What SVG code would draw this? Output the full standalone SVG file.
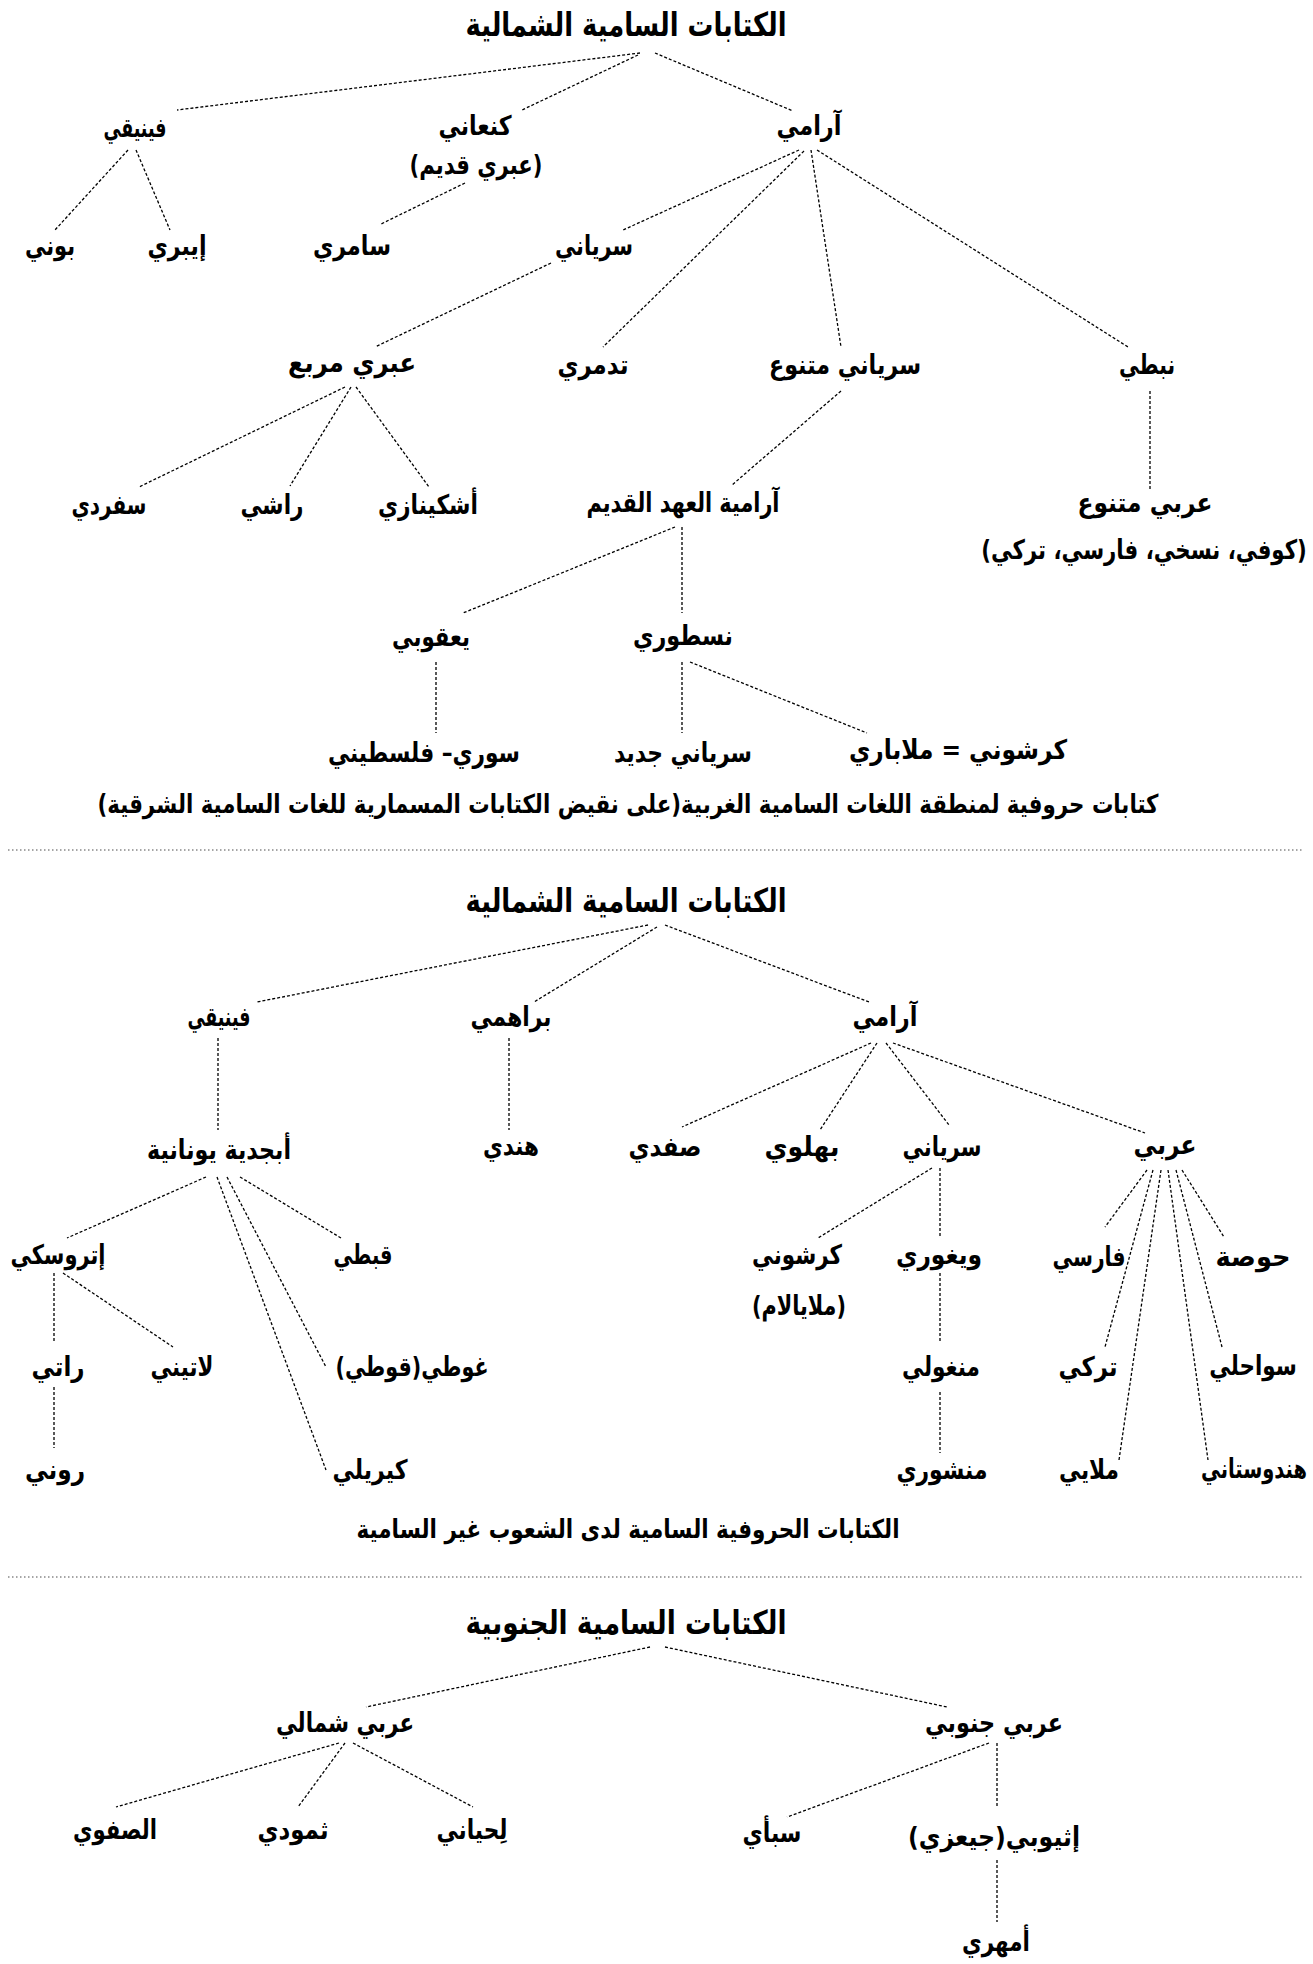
<svg xmlns="http://www.w3.org/2000/svg" width="1313" height="1964" viewBox="0 0 1313 1964">
<style>
text{font-family:"DejaVu Sans","Noto Sans",sans-serif;font-weight:bold;fill:#000;text-anchor:middle;dominant-baseline:central;direction:rtl}
.t{font-size:33px}
.n{font-size:27px}
.c{font-size:26px}
.e line{stroke:#000;stroke-width:1.3;stroke-dasharray:3 2;fill:none}
.sep{stroke:#888;stroke-width:1.5;stroke-dasharray:1.5 2.5}
</style>
<rect width="1313" height="1964" fill="#fff"/>
<g class="e" id="connectors">
<line x1="640" y1="53" x2="177" y2="110"/>
<line x1="638" y1="55" x2="522" y2="110"/>
<line x1="655" y1="53" x2="793" y2="111"/>
<line x1="128" y1="150" x2="55" y2="230"/>
<line x1="136" y1="150" x2="170" y2="230"/>
<line x1="465" y1="183" x2="381" y2="224"/>
<line x1="799" y1="150" x2="623" y2="230"/>
<line x1="804" y1="151" x2="603" y2="347"/>
<line x1="811" y1="150" x2="841" y2="347"/>
<line x1="817" y1="150" x2="1128" y2="347"/>
<line x1="551" y1="263" x2="375" y2="347"/>
<line x1="345" y1="387" x2="139" y2="487"/>
<line x1="351" y1="387" x2="290" y2="486"/>
<line x1="356" y1="387" x2="429" y2="487"/>
<line x1="841" y1="391" x2="732" y2="485"/>
<line x1="1150" y1="391" x2="1150" y2="489"/>
<line x1="675" y1="527" x2="463" y2="613"/>
<line x1="682" y1="527" x2="682" y2="613"/>
<line x1="436" y1="662" x2="436" y2="733"/>
<line x1="682" y1="662" x2="682" y2="733"/>
<line x1="690" y1="662" x2="867" y2="733"/>
<line x1="648" y1="925" x2="257" y2="1002"/>
<line x1="657" y1="927" x2="534" y2="1002"/>
<line x1="665" y1="925" x2="869" y2="1002"/>
<line x1="218" y1="1038" x2="218" y2="1130"/>
<line x1="509" y1="1038" x2="509" y2="1130"/>
<line x1="871" y1="1043" x2="682" y2="1127"/>
<line x1="877" y1="1043" x2="820" y2="1130"/>
<line x1="886" y1="1043" x2="949" y2="1125"/>
<line x1="893" y1="1043" x2="1145" y2="1133"/>
<line x1="206" y1="1177" x2="67" y2="1238"/>
<line x1="217" y1="1177" x2="326" y2="1470"/>
<line x1="227" y1="1177" x2="326" y2="1367"/>
<line x1="240" y1="1177" x2="341" y2="1238"/>
<line x1="54" y1="1273" x2="54" y2="1342"/>
<line x1="63" y1="1273" x2="173" y2="1347"/>
<line x1="54" y1="1387" x2="54" y2="1448"/>
<line x1="932" y1="1168" x2="818" y2="1238"/>
<line x1="940" y1="1168" x2="940" y2="1238"/>
<line x1="940" y1="1273" x2="940" y2="1342"/>
<line x1="940" y1="1392" x2="940" y2="1453"/>
<line x1="1147" y1="1170" x2="1105" y2="1227"/>
<line x1="1153" y1="1170" x2="1105" y2="1347"/>
<line x1="1161" y1="1170" x2="1119" y2="1460"/>
<line x1="1168" y1="1170" x2="1208" y2="1460"/>
<line x1="1176" y1="1170" x2="1222" y2="1347"/>
<line x1="1182" y1="1170" x2="1224" y2="1237"/>
<line x1="650" y1="1647" x2="366" y2="1707"/>
<line x1="665" y1="1647" x2="947" y2="1707"/>
<line x1="339" y1="1743" x2="116" y2="1807"/>
<line x1="345" y1="1743" x2="298" y2="1807"/>
<line x1="353" y1="1743" x2="473" y2="1807"/>
<line x1="989" y1="1743" x2="787" y2="1817"/>
<line x1="997" y1="1743" x2="997" y2="1807"/>
<line x1="997" y1="1860" x2="997" y2="1922"/>
</g>
<g id="separators">
<line class="sep" x1="8" y1="850" x2="1302" y2="850"/>
<line class="sep" x1="8" y1="1577" x2="1302" y2="1577"/>
</g>
<g id="s1">
<g id="t1"><text class="t" x="626" y="24" textLength="321" lengthAdjust="spacingAndGlyphs">الكتابات السامية الشمالية</text></g>
<g id="s1-phoenician"><text class="n" x="135" y="127" textLength="63" lengthAdjust="spacingAndGlyphs">فينيقي</text></g>
<g id="s1-canaanite"><text class="n" x="475" y="125" textLength="73" lengthAdjust="spacingAndGlyphs">كنعاني</text><text class="n" x="476" y="164" textLength="133" lengthAdjust="spacingAndGlyphs">(عبري قديم)</text></g>
<g id="s1-aramaic"><text class="n" x="809" y="125" textLength="65" lengthAdjust="spacingAndGlyphs">آرامي</text></g>
<g id="s1-punic"><text class="n" x="50" y="245" textLength="50" lengthAdjust="spacingAndGlyphs">بوني</text></g>
<g id="s1-iberian"><text class="n" x="177" y="245" textLength="59" lengthAdjust="spacingAndGlyphs">إيبري</text></g>
<g id="s1-samaritan"><text class="n" x="352" y="245" textLength="78" lengthAdjust="spacingAndGlyphs">سامري</text></g>
<g id="s1-syriac"><text class="n" x="594" y="245" textLength="78" lengthAdjust="spacingAndGlyphs">سرياني</text></g>
<g id="s1-square"><text class="n" x="352" y="362" textLength="128" lengthAdjust="spacingAndGlyphs">عبري مربع</text></g>
<g id="s1-palmyrene"><text class="n" x="593" y="364" textLength="71" lengthAdjust="spacingAndGlyphs">تدمري</text></g>
<g id="s1-syriacvar"><text class="n" x="845" y="364" textLength="152" lengthAdjust="spacingAndGlyphs">سرياني متنوع</text></g>
<g id="s1-nabataean"><text class="n" x="1147" y="364" textLength="56" lengthAdjust="spacingAndGlyphs">نبطي</text></g>
<g id="s1-sephardi"><text class="n" x="109" y="504" textLength="75" lengthAdjust="spacingAndGlyphs">سفردي</text></g>
<g id="s1-rashi"><text class="n" x="272" y="504" textLength="63" lengthAdjust="spacingAndGlyphs">راشي</text></g>
<g id="s1-ashkenazi"><text class="n" x="428" y="504" textLength="100" lengthAdjust="spacingAndGlyphs">أشكينازي</text></g>
<g id="s1-ot"><text class="n" x="683" y="502" textLength="193" lengthAdjust="spacingAndGlyphs">آرامية العهد القديم</text></g>
<g id="s1-arabicvar"><text class="n" x="1145" y="502" textLength="135" lengthAdjust="spacingAndGlyphs">عربي متنوع</text><text class="n" transform="translate(1144 550) scale(0.8 1)" x="0" y="0" textLength="407" lengthAdjust="spacingAndGlyphs">(كوفي، نسخي، فارسي، تركي)</text></g>
<g id="s1-jacobite"><text class="n" x="431" y="636" textLength="78" lengthAdjust="spacingAndGlyphs">يعقوبي</text></g>
<g id="s1-nestorian"><text class="n" x="683" y="635" textLength="100" lengthAdjust="spacingAndGlyphs">نسطوري</text></g>
<g id="s1-syropal"><text class="n" x="424" y="752" textLength="192" lengthAdjust="spacingAndGlyphs">سوري– فلسطيني</text></g>
<g id="s1-newsyriac"><text class="n" x="683" y="752" textLength="138" lengthAdjust="spacingAndGlyphs">سرياني جديد</text></g>
<g id="s1-karshuni"><text class="n" x="958" y="749" textLength="218" lengthAdjust="spacingAndGlyphs">كرشوني = ملاباري</text></g>
<g id="s1-caption"><text class="c" transform="translate(628 804) scale(0.82 1)" x="0" y="0" textLength="1294" lengthAdjust="spacingAndGlyphs">كتابات حروفية لمنطقة اللغات السامية الغربية(على نقيض الكتابات المسمارية للغات السامية الشرقية)</text></g>
</g>
<g id="s2">
<g id="t2"><text class="t" x="626" y="900" textLength="321" lengthAdjust="spacingAndGlyphs">الكتابات السامية الشمالية</text></g>
<g id="s2-phoenician"><text class="n" x="219" y="1016" textLength="63" lengthAdjust="spacingAndGlyphs">فينيقي</text></g>
<g id="s2-brahmi"><text class="n" x="511" y="1016" textLength="81" lengthAdjust="spacingAndGlyphs">براهمي</text></g>
<g id="s2-aramaic"><text class="n" x="885" y="1016" textLength="65" lengthAdjust="spacingAndGlyphs">آرامي</text></g>
<g id="s2-greek"><text class="n" x="219" y="1149" textLength="144" lengthAdjust="spacingAndGlyphs">أبجدية يونانية</text></g>
<g id="s2-indian"><text class="n" x="511" y="1145" textLength="56" lengthAdjust="spacingAndGlyphs">هندي</text></g>
<g id="s2-sogdian"><text class="n" x="665" y="1146" textLength="73" lengthAdjust="spacingAndGlyphs">صفدي</text></g>
<g id="s2-pahlavi"><text class="n" x="802" y="1146" textLength="75" lengthAdjust="spacingAndGlyphs">بهلوي</text></g>
<g id="s2-syriac"><text class="n" x="942" y="1146" textLength="79" lengthAdjust="spacingAndGlyphs">سرياني</text></g>
<g id="s2-arabic"><text class="n" x="1165" y="1144" textLength="63" lengthAdjust="spacingAndGlyphs">عربي</text></g>
<g id="s2-etruscan"><text class="n" x="58" y="1254" textLength="95" lengthAdjust="spacingAndGlyphs">إتروسكي</text></g>
<g id="s2-coptic"><text class="n" x="363" y="1254" textLength="59" lengthAdjust="spacingAndGlyphs">قبطي</text></g>
<g id="s2-karshuni"><text class="n" x="797" y="1254" textLength="90" lengthAdjust="spacingAndGlyphs">كرشوني</text><text class="n" x="799" y="1305" textLength="94" lengthAdjust="spacingAndGlyphs">(ملايالام)</text></g>
<g id="s2-uyghur"><text class="n" x="939" y="1254" textLength="86" lengthAdjust="spacingAndGlyphs">ويغوري</text></g>
<g id="s2-persian"><text class="n" x="1089" y="1256" textLength="73" lengthAdjust="spacingAndGlyphs">فارسي</text></g>
<g id="s2-hausa"><text class="n" x="1253" y="1256" textLength="75" lengthAdjust="spacingAndGlyphs">حوصة</text></g>
<g id="s2-raetic"><text class="n" x="58" y="1366" textLength="53" lengthAdjust="spacingAndGlyphs">راتي</text></g>
<g id="s2-latin"><text class="n" x="182" y="1366" textLength="63" lengthAdjust="spacingAndGlyphs">لاتيني</text></g>
<g id="s2-gothic"><text class="n" x="412" y="1366" textLength="153" lengthAdjust="spacingAndGlyphs">غوطي(قوطي)</text></g>
<g id="s2-mongol"><text class="n" x="941" y="1366" textLength="78" lengthAdjust="spacingAndGlyphs">منغولي</text></g>
<g id="s2-turkish"><text class="n" x="1088" y="1366" textLength="59" lengthAdjust="spacingAndGlyphs">تركي</text></g>
<g id="s2-swahili"><text class="n" transform="translate(1253 1366) scale(0.82 1)" x="0" y="0" textLength="107" lengthAdjust="spacingAndGlyphs">سواحلي</text></g>
<g id="s2-runic"><text class="n" x="55" y="1469" textLength="60" lengthAdjust="spacingAndGlyphs">روني</text></g>
<g id="s2-cyrillic"><text class="n" x="370" y="1469" textLength="75" lengthAdjust="spacingAndGlyphs">كيريلي</text></g>
<g id="s2-manchu"><text class="n" x="942" y="1469" textLength="91" lengthAdjust="spacingAndGlyphs">منشوري</text></g>
<g id="s2-malay"><text class="n" x="1089" y="1469" textLength="60" lengthAdjust="spacingAndGlyphs">ملايي</text></g>
<g id="s2-hindustani"><text class="n" transform="translate(1254 1469) scale(0.72 1)" x="0" y="0" textLength="147" lengthAdjust="spacingAndGlyphs">هندوستاني</text></g>
<g id="s2-caption"><text class="c" x="628" y="1529" textLength="543" lengthAdjust="spacingAndGlyphs">الكتابات الحروفية السامية لدى الشعوب غير السامية</text></g>
</g>
<g id="s3">
<g id="t3"><text class="t" x="626" y="1622" textLength="321" lengthAdjust="spacingAndGlyphs">الكتابات السامية الجنوبية</text></g>
<g id="s3-north"><text class="n" x="345" y="1722" textLength="138" lengthAdjust="spacingAndGlyphs">عربي شمالي</text></g>
<g id="s3-south"><text class="n" x="994" y="1722" textLength="138" lengthAdjust="spacingAndGlyphs">عربي جنوبي</text></g>
<g id="s3-safaitic"><text class="n" x="115" y="1829" textLength="84" lengthAdjust="spacingAndGlyphs">الصفوي</text></g>
<g id="s3-thamudic"><text class="n" x="293" y="1829" textLength="71" lengthAdjust="spacingAndGlyphs">ثمودي</text></g>
<g id="s3-lihyanite"><text class="n" x="472" y="1829" textLength="71" lengthAdjust="spacingAndGlyphs">لِحياني</text></g>
<g id="s3-sabaean"><text class="n" x="772" y="1832" textLength="59" lengthAdjust="spacingAndGlyphs">سبأي</text></g>
<g id="s3-ethiopic"><text class="n" x="994" y="1836" textLength="172" lengthAdjust="spacingAndGlyphs">إثيوبي(جيعزي)</text></g>
<g id="s3-amharic"><text class="n" x="996" y="1941" textLength="68" lengthAdjust="spacingAndGlyphs">أمهري</text></g>
</g>
</svg>
